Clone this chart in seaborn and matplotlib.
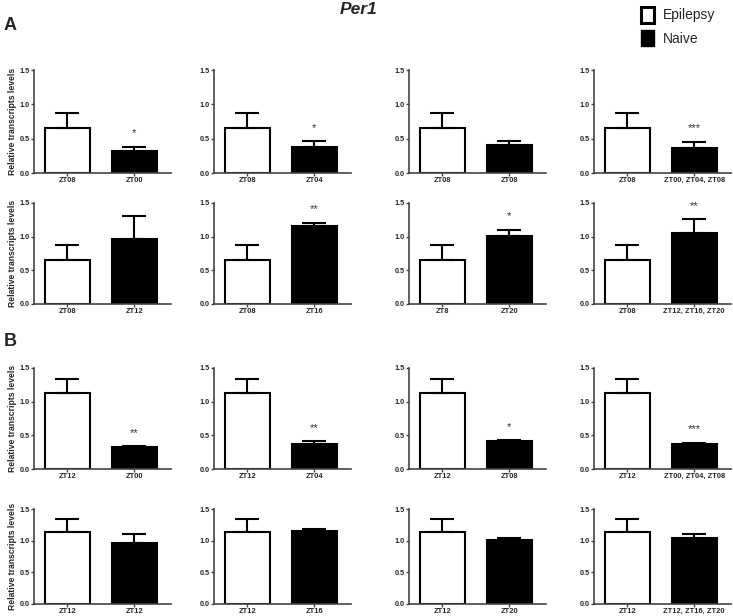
import numpy as np
import pandas as pd
import matplotlib
matplotlib.use("Agg")
import matplotlib.pyplot as plt
from matplotlib.patches import Patch
import seaborn as sns

sns.set_style("ticks")
plt.rcParams.update({'font.family': ['Liberation Sans', 'DejaVu Sans'], 'font.size': 6})

# %% DADOS
# grupo de referencia (Epilepsy) em cada bloco
epi_A_val = 0.65
epi_A_err = 0.22
epi_B_val = 1.13
epi_B_err = 0.21

epi_A_labels = ["ZT08", "ZT08", "ZT08", "ZT08", "ZT08", "ZT08", "ZT8", "ZT08"]
epi_B_labels = ["ZT12"] * 8

naive_labels = ["ZT00", "ZT04", "ZT08", "ZT00, ZT04, ZT08",
                "ZT12", "ZT16", "ZT20", "ZT12, ZT16, ZT20"]

naive_A_vals = [0.32, 0.38, 0.41, 0.37, 0.96, 1.16, 1.01, 1.05]
naive_A_err  = [0.06, 0.08, 0.06, 0.08, 0.35, 0.05, 0.09, 0.21]
sig_A        = ["*", "*", "", "***", "", "**", "*", "**"]

naive_B_vals = [0.32, 0.37, 0.41, 0.37, 0.96, 1.16, 1.01, 1.05]
naive_B_err  = [0.02, 0.04, 0.02, 0.02, 0.15, 0.02, 0.04, 0.05]
sig_B        = ["**", "**", "*", "***", "", "", "", ""]

groups = ["Epilepsy", "Naive"]
PALETTE = {"Epilepsy": "white", "Naive": "black"}

# %% LAYOUT (pixels da figura 733x616)
W, H = 733, 616
col_left = [34, 214, 409, 594]
col_width = 137
row_top = [70, 203, 368, 509]      # y do 1.5
row_bot = [173, 304, 469, 604]     # y do 0.0

fig = plt.figure(figsize=(W / 100, H / 100), dpi=100)


def painel(ax, labels, vals, errs, sig, ylabel):
    df = pd.DataFrame({"grupo": groups, "valor": vals})
    sns.barplot(data=df, x="grupo", y="valor", hue="grupo", palette=PALETTE,
                edgecolor="black", linewidth=1.5, width=0.68, legend=False, ax=ax)
    ax.errorbar([0, 1], vals, yerr=[[0, 0], errs], fmt="none", ecolor="black",
                elinewidth=1.5, capsize=8.5, capthick=1.5)
    if sig:
        ax.text(1, vals[1] + errs[1] + 0.2, sig, ha="center", va="center",
                fontsize=8, color="#333333")
    ax.set_xlim(-0.5, 1.55)
    ax.set_ylim(0, 1.5)
    ax.set_yticks([0, 0.5, 1.0, 1.5])
    ax.set_yticklabels(["0.0", "0.5", "1.0", "1.5"], fontweight="bold", fontsize=5.2)
    ax.set_xticks([0, 1])
    ax.set_xticklabels(labels, fontweight="bold", fontsize=5.4)
    ax.set_xlabel("")
    ax.set_ylabel(ylabel, fontweight="bold", fontsize=6.2, labelpad=2)
    sns.despine(ax=ax)
    for s in ["left", "bottom"]:
        ax.spines[s].set_color("#444444")
        ax.spines[s].set_linewidth(1.2)
    ax.tick_params(length=2, width=1, pad=1, color="#444444")


for bloco in range(2):
    for r in range(2):
        for c in range(4):
            i = r * 4 + c
            row = bloco * 2 + r
            ax = fig.add_axes([col_left[c] / W, 1 - row_bot[row] / H,
                               col_width / W, (row_bot[row] - row_top[row]) / H])
            if bloco == 0:
                vals = [epi_A_val, naive_A_vals[i]]
                errs = [epi_A_err, naive_A_err[i]]
                labels = [epi_A_labels[i], naive_labels[i]]
                sig = sig_A[i]
            else:
                vals = [epi_B_val, naive_B_vals[i]]
                errs = [epi_B_err, naive_B_err[i]]
                labels = [epi_B_labels[i], naive_labels[i]]
                sig = sig_B[i]
            ylabel = "Relative transcripts levels" if c == 0 else ""
            painel(ax, labels, vals, errs, sig, ylabel)

# %% TITULOS E LEGENDA
fig.text(358 / W, 1 - 10 / H, "Per1", ha="center", va="center",
         fontsize=12.5, fontweight="bold", style="italic")
fig.text(4 / W, 1 - 26 / H, "A", ha="left", va="center", fontsize=13, fontweight="bold")
fig.text(4 / W, 1 - 342 / H, "B", ha="left", va="center", fontsize=13, fontweight="bold")

handles = [Patch(facecolor="white", edgecolor="black", linewidth=2.2),
           Patch(facecolor="black", edgecolor="black")]
fig.legend(handles, groups, loc="upper left", bbox_to_anchor=(628 / W, 1 + 6 / H),
           frameon=False, fontsize=10, handlelength=1.0, handleheight=1.4,
           handletextpad=0.6, labelspacing=0.55)

plt.savefig("out.png", dpi=100)
